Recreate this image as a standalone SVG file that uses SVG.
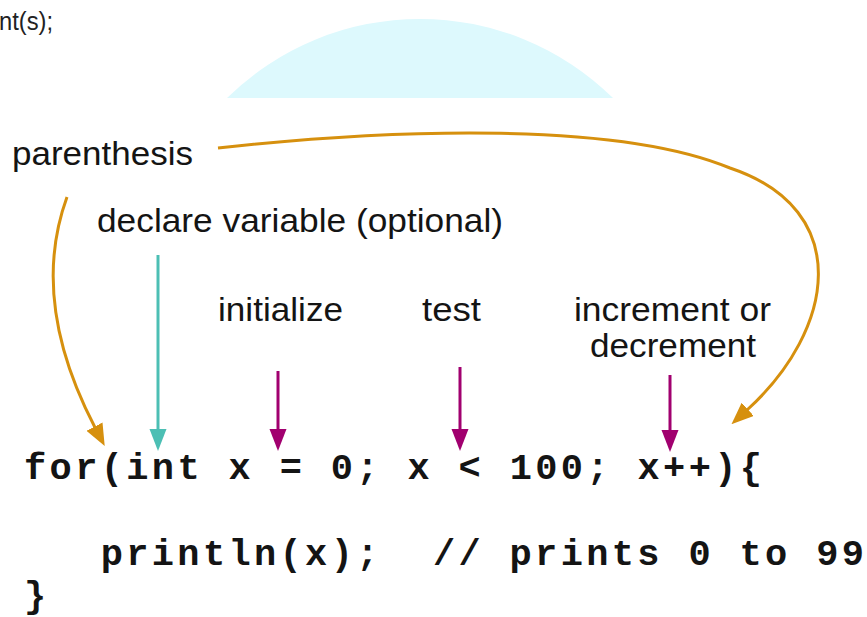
<svg xmlns="http://www.w3.org/2000/svg" width="867" height="617" viewBox="0 0 867 617">
<style>
.lbl{font-family:"Liberation Sans",Arial,sans-serif;font-size:33px;fill:#141414}
.code{font-family:"Liberation Mono","Courier New",monospace;font-weight:bold;font-size:37px;fill:#141414;white-space:pre}
.top{font-family:"Liberation Sans",Arial,sans-serif;font-size:26px;fill:#222}
.or{fill:none;stroke:#D6900E;stroke-width:3}
.te{fill:none;stroke:#4CBFB4;stroke-width:3}
.mg{fill:none;stroke:#A1006F;stroke-width:3}
</style>
<defs>
<marker id="hOr" markerUnits="userSpaceOnUse" markerWidth="22" markerHeight="18" viewBox="0 0 22 18" refX="1" refY="9" orient="auto"><path d="M0 0L22 9L0 18Z" fill="#D6900E"/></marker>
<marker id="hTe" markerUnits="userSpaceOnUse" markerWidth="22" markerHeight="18" viewBox="0 0 22 18" refX="1" refY="9" orient="auto"><path d="M0 0.5L22 9L0 17.5Z" fill="#4CBFB4"/></marker>
<marker id="hMg" markerUnits="userSpaceOnUse" markerWidth="22" markerHeight="18" viewBox="0 0 22 18" refX="1" refY="9" orient="auto"><path d="M0 0.5L22 9L0 17.5Z" fill="#A1006F"/></marker>
</defs>
<rect width="867" height="617" fill="#fff"/>
<path d="M227 98A275 275 0 0 1 613 98Z" fill="#DDF9FD"/>
<text class="top" x="-1" y="30" textLength="54" lengthAdjust="spacingAndGlyphs">nt(s);</text>

<g id="parenthesis"><text class="lbl" x="12" y="165" textLength="181" lengthAdjust="spacingAndGlyphs">parenthesis</text></g>
<g id="declare"><text class="lbl" x="97" y="232" textLength="406" lengthAdjust="spacingAndGlyphs">declare variable (optional)</text></g>
<g id="initialize"><text class="lbl" x="218" y="321" textLength="125" lengthAdjust="spacingAndGlyphs">initialize</text></g>
<g id="test"><text class="lbl" x="422" y="321" textLength="59" lengthAdjust="spacingAndGlyphs">test</text></g>
<g id="increment"><text class="lbl" x="574" y="321" textLength="197" lengthAdjust="spacingAndGlyphs">increment or</text><text class="lbl" x="590" y="357" textLength="166" lengthAdjust="spacingAndGlyphs">decrement</text></g>
<g id="code">
<text class="code" x="24" y="479" textLength="738" lengthAdjust="spacing">for(int x = 0; x &lt; 100; x++){</text>
<text class="code" x="24" y="565" textLength="840" lengthAdjust="spacing">   println(x);  // prints 0 to 99</text>
<text class="code" x="24" y="607">}</text>
</g>

<g id="connectors">
<path class="or" d="M67 197C35 285 65 370 95 427.5" marker-end="url(#hOr)"/>
<path class="or" d="M218 148C400 128 620 122 730 168C855 210 835 330 747 410" marker-end="url(#hOr)"/>
<path class="te" d="M158 255V430" marker-end="url(#hTe)"/>
<path class="mg" d="M278 371V430" marker-end="url(#hMg)"/>
<path class="mg" d="M460 367V430" marker-end="url(#hMg)"/>
<path class="mg" d="M670 375V431" marker-end="url(#hMg)"/>
</g>
</svg>
